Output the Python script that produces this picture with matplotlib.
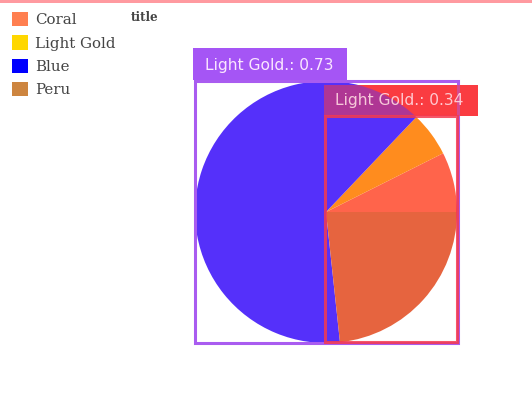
import matplotlib
matplotlib.use('Agg')
import matplotlib.pyplot as plt
from matplotlib.patches import Rectangle, Patch

# pie data (share of the circle)
categories = ['Coral', 'Light Gold', 'Blue', 'Peru']
values = [7.4, 5.5, 63.8, 23.3]
legend_colors = ['#FF7F50', '#FFD700', '#0000FF', '#CD853F']
wedge_colors = ['#FF644B', '#FF8C1E', '#5530FA', '#E6643F']

# detection style labels drawn over the chart
box_labels = ['Light Gold.: 0.73', 'Light Gold.: 0.34']

W, H = 532, 400
fig = plt.figure(figsize=(W / 100, H / 100), dpi=100)
ax = fig.add_axes([0, 0, 1, 1])
ax.patch.set_visible(False)


def rect(x0, y0, x1, y1, **kw):
    # pixel box measured from the top-left corner of the image
    return Rectangle((x0, H - y1), x1 - x0, y1 - y0, **kw)


# solid part of the red label, sits under the pie
ax.add_patch(rect(324, 85, 478, 116, facecolor='#FA3C41', edgecolor='none', zorder=0.5))

ax.pie(values, colors=wedge_colors, startangle=0, center=(326, H - 212),
       radius=131, frame=True, wedgeprops={'linewidth': 0})

ax.set_xlim(0, W)
ax.set_ylim(0, H)
ax.set_aspect('auto')
ax.axis('off')

# top strip
ax.add_patch(rect(0, 0, W, 2.5, facecolor='#FF9AA0', edgecolor='none', zorder=5))

# purple box + label
ax.add_patch(rect(195, 81, 458, 343, facecolor='none', edgecolor='#A95CF0', linewidth=2.2, zorder=2))
ax.add_patch(rect(193, 48, 347, 79.5, facecolor='#A555F5', edgecolor='none', zorder=2))
ax.text(205, H - 65.5, box_labels[0], fontsize=11.2, color='#FAE6FF', va='center', ha='left',
        family='DejaVu Sans', zorder=4)

# red box + label
ax.add_patch(rect(324, 85, 478, 116, facecolor='#FA3C41', edgecolor='none', alpha=0.55, zorder=3))
ax.add_patch(rect(325, 116, 457, 342, facecolor='none', edgecolor='#F53A4E', linewidth=2.2,
                  alpha=0.85, zorder=3))
ax.text(335, H - 101, box_labels[1], fontsize=11.2, color='#FFD8E0', alpha=0.9, va='center',
        ha='left', family='DejaVu Sans', zorder=4)

fig.text(145 / W, 1 - 17.5 / H, 'title', fontsize=8.6, fontweight='bold', family='DejaVu Serif',
         color='#444444', ha='center', va='center')

handles = [Patch(facecolor=c, edgecolor='none') for c in legend_colors]
fig.legend(handles, categories, loc='upper left', bbox_to_anchor=(12 / W, 1 - 12 / H),
           frameon=False, prop={'family': 'DejaVu Serif', 'size': 10.8}, labelcolor='#444444',
           handlelength=1.07, handleheight=1.07, handletextpad=0.45, borderaxespad=0,
           borderpad=0, labelspacing=0.55)

fig.savefig('out.png', dpi=100)
